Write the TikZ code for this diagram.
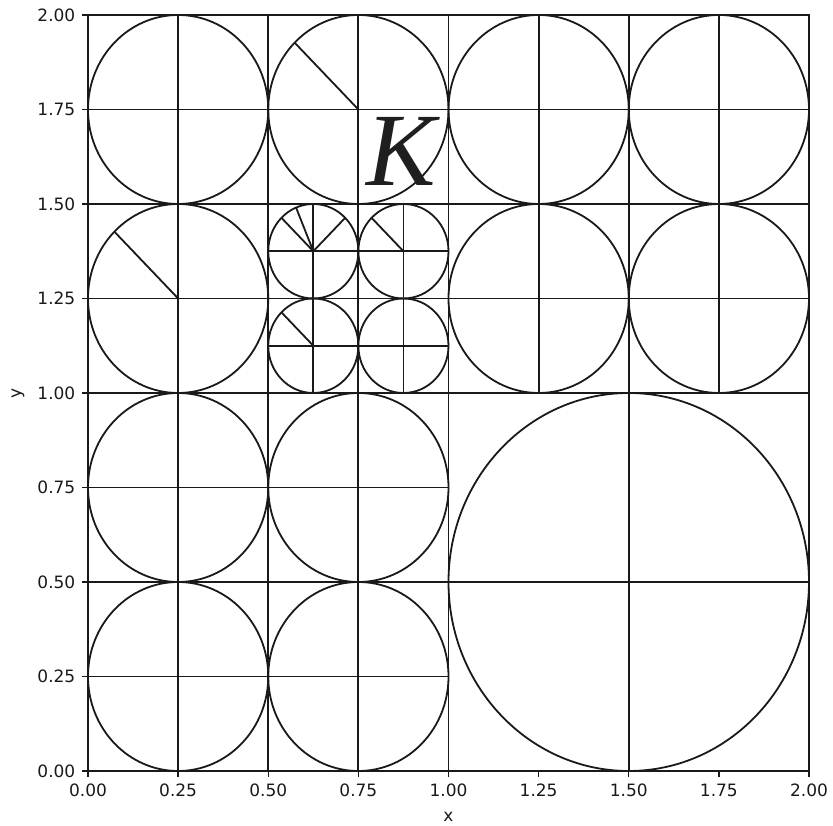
\documentclass[tikz,border=0pt]{standalone}
\usepackage{fontspec}
\setmainfont{DejaVu Sans}
\newfontfamily\kfont{Liberation Serif}
\begin{document}
\begin{tikzpicture}[x=360.5pt,y=378pt,
  geo/.style={line width=1.8pt, draw=black!90},
  frame/.style={line width=1.3pt, draw=black!90},
  tickmark/.style={line width=1.3pt, draw=black!90},
  lab/.style={font=\fontsize{17}{20}\selectfont, inner sep=0pt, text=black!90}]
\useasboundingbox (-0.24410,-0.142857) rectangle (2.06657,2.03968);
% cells with circle, cross and boundary
\foreach \cx/\cy/\r in {0.25/0.25/0.25, 0.75/0.25/0.25, 0.25/0.75/0.25, 0.75/0.75/0.25,
  0.25/1.25/0.25, 0.25/1.75/0.25, 0.75/1.75/0.25, 1.25/1.25/0.25, 1.75/1.25/0.25,
  1.25/1.75/0.25, 1.75/1.75/0.25, 1.5/0.5/0.5,
  0.625/1.125/0.125, 0.875/1.125/0.125, 0.625/1.375/0.125, 0.875/1.375/0.125}{
  \draw[geo] (\cx,\cy) circle[radius=\r];
  \draw[geo] ({\cx-\r},\cy) -- ({\cx+\r},\cy) (\cx,{\cy-\r}) -- (\cx,{\cy+\r});
  \draw[geo] ({\cx-\r},{\cy-\r}) rectangle ({\cx+\r},{\cy+\r});
}
% radial lines
\foreach \cx/\cy/\r/\a in {0.75/1.75/0.25/135, 0.25/1.25/0.25/135,
  0.625/1.375/0.125/45, 0.625/1.375/0.125/112.5, 0.625/1.375/0.125/135,
  0.875/1.375/0.125/135, 0.625/1.125/0.125/135}{
  \draw[geo] (\cx,\cy) -- ({\cx+\r*cos(\a)},{\cy+\r*sin(\a)});
}
% frame
\draw[frame] (0,0) rectangle (2,2);
% ticks
\foreach \v/\t in {0/0.00,0.25/0.25,0.5/0.50,0.75/0.75,1/1.00,1.25/1.25,1.5/1.50,1.75/1.75,2/2.00}{
  \draw[tickmark] (\v,0) -- ++(0,-6pt);
  \node[lab, anchor=north] at ([yshift=-12.5pt]\v,0) {\t};
  \draw[tickmark] (0,\v) -- ++(-6pt,0);
  \node[lab, anchor=east] at ([xshift=-12.5pt]0,\v) {\t};
}
\node[lab] (xl) at ([yshift=-46pt]1,0) {x};
\node[lab, rotate=90] (yl) at ([xshift=-70pt]0,1) {y};
\node[inner sep=0pt, font=\kfont\itshape\fontsize{104}{110}\selectfont, text=black!88] (K) at (0.868,1.64) {K};
\end{tikzpicture}
\end{document}
